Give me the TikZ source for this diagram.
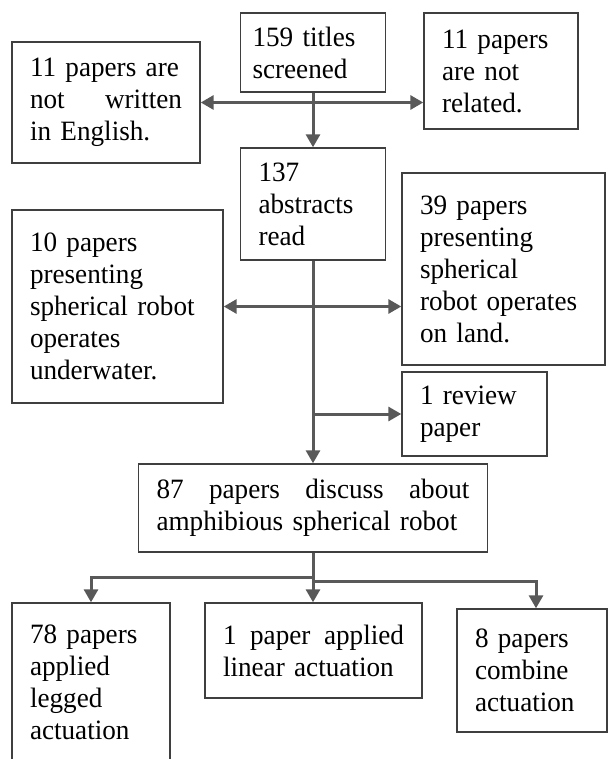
\documentclass[tikz,border=0pt]{standalone}
\usepackage{fontspec}
\setmainfont{Liberation Serif}[FakeStretch=0.97]
\usepackage{tikz}
\usetikzlibrary{arrows.meta}
\definecolor{linegray}{HTML}{595959}
\definecolor{boxgray}{HTML}{3F3F3F}

\begin{document}
\begin{tikzpicture}[x=0.5pt, y=-0.5pt,
    >={Triangle[length=6.5pt,width=7pt]},
    box/.style={draw=boxgray, line width=0.7pt, align=left, inner xsep=9pt, inner ysep=0pt, font=\fontsize{14}{16}\selectfont},
    arr/.style={draw=linegray, line width=1.5pt, ->},
    arrs/.style={arr, <->}]
            \useasboundingbox (0,0) rectangle (608,759);

            \node[box, inner xsep=6pt, minimum width=72.5pt, minimum height=39.5pt, text width=60.5pt] (T) at (313, 52.5) {159 titles\\screened};
            \node[box, minimum width=94pt, minimum height=60.5pt, text width=76pt] (E) at (106, 102.5) {11 papers are\\not\hfill written\\in English.};
            \node[box, minimum width=77pt, minimum height=58pt, text width=59pt] (R) at (501, 71) {11 papers\\are not\\related.};
            \node[box, minimum width=72.5pt, minimum height=56pt, text width=54.5pt] (A) at (313, 204) {137\\abstracts\\read};
            \node[box, minimum width=105.5pt, minimum height=96.5pt, text width=87.5pt] (W) at (117.5, 306.5) {10 papers\\presenting\\spherical robot\\operates\\underwater.};
            \node[box, minimum width=101.5pt, minimum height=96pt, text width=83.5pt] (L) at (503.5, 269) {39 papers\\presenting\\spherical\\robot operates\\on land.};
            \node[box, minimum width=72.5pt, minimum height=42pt, text width=54.5pt] (V) at (474.5, 414) {1 review\\paper};
            \node[box, minimum width=174.5pt, minimum height=44pt, text width=156.5pt] (P) at (313, 508) {87\hfill papers\hfill discuss\hfill about\\amphibious spherical robot};
            \node[box, minimum width=79pt, minimum height=79.5pt, text width=61pt] (G) at (91, 682.5) {78 papers\\applied\\legged\\actuation};
            \node[box, minimum width=108.5pt, minimum height=47.5pt, text width=90.5pt] (N) at (313.5, 650.5) {1\hfill paper\hfill applied\\linear actuation};
            \node[box, minimum width=75pt, minimum height=61.5pt, text width=57pt] (C) at (532, 670.5) {8 papers\\combine\\actuation};

            \draw [arrs] (E.east) -- (E.east -| R.west);
            \draw [arr] (T) -- (A);

            \draw [arrs] (W.east) -- (W.east -| L.west);
            \draw [arr] (A) -- (P);
            \draw [arr] (V.west -| A.south) -- (V.west);

            \draw [arr] (P.south) -- (P.south |- N.north);
            \draw [arr] (P.south) -- ++(0,25) -| (G.north);
            \draw [arr] (P.south) -- ++(0,29) -| ([xshift=2pt]C.north);
        \end{tikzpicture}
\end{document}
